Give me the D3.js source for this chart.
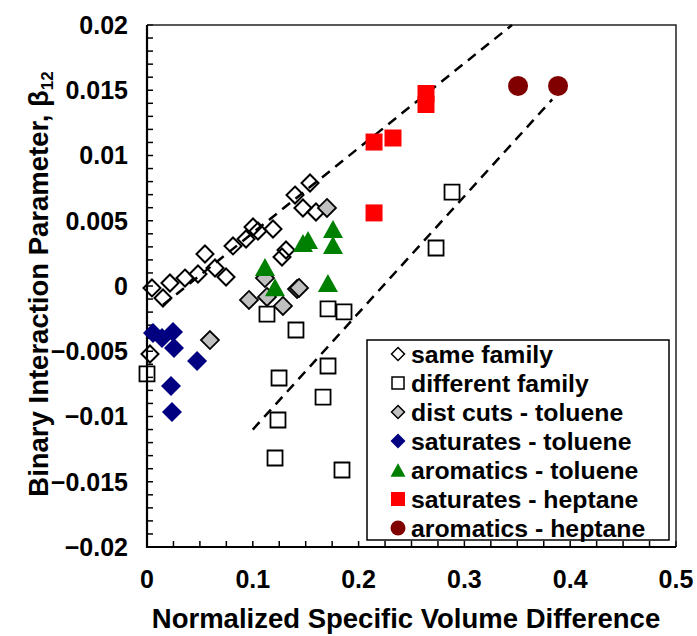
<!DOCTYPE html>
<html>
<head>
<meta charset="utf-8">
<script src="https://cdn.jsdelivr.net/npm/d3@7"></script>
<style>
  body { margin: 0; background: #fff; }
  text { font-family: "Liberation Sans", Arial, sans-serif; font-weight: bold; }
</style>
</head>
<body>
<div id="chart"></div>
<script>
// data: [normalized specific volume difference, beta12]
const sameFamily = [
  [0.0047, -0.00015], [0.0151, -0.00092], [0.0217, 0.00023], [0.0359, 0.00061],
  [0.0482, 0.00092], [0.0548, 0.00245], [0.0643, 0.00138], [0.0747, 0.00069],
  [0.0813, 0.00307], [0.0936, 0.0036], [0.1002, 0.00452], [0.1049, 0.00421],
  [0.1191, 0.00437], [0.1276, 0.00222], [0.1314, 0.00276], [0.1399, 0.00697],
  [0.1474, 0.00598], [0.1541, 0.00789], [0.1597, 0.00567], [0.0028, -0.00521]
];
const diffFamily = [
  [0.0, -0.00674], [0.1134, -0.00215], [0.1711, -0.00176], [0.1862, -0.00199],
  [0.1408, -0.00337], [0.1711, -0.00613], [0.1248, -0.00705], [0.1664, -0.00851],
  [0.1238, -0.01027], [0.121, -0.01318], [0.1843, -0.0141], [0.2732, 0.00291],
  [0.2883, 0.0072]
];
const distCutsTol = [
  [0.1115, 0.00061], [0.0964, -0.00107], [0.1134, -0.00084], [0.1285, -0.00153],
  [0.1418, -0.00023], [0.1437, -0.00015], [0.1701, 0.00598], [0.0595, -0.00414]
];
const satTol = [
  [0.0057, -0.0036], [0.0142, -0.00398], [0.0246, -0.00352], [0.0255, -0.00475],
  [0.0473, -0.00575], [0.0227, -0.00766], [0.0236, -0.00966]
];
const aroTol = [
  [0.1115, 0.00146], [0.121, -0.0001], [0.1474, 0.0033], [0.1522, 0.00352],
  [0.1758, 0.00437], [0.1758, 0.00314], [0.171, 0.00023]
];
const satHep = [
  [0.2146, 0.01103], [0.2325, 0.01134], [0.2637, 0.01475], [0.2637, 0.01391],
  [0.2146, 0.0056]
];
const aroHep = [[0.3507, 0.01533], [0.3885, 0.01533]];

// the two dashed trend lines
const upperLine = [[0.015, -0.00146], [0.345, 0.02]];
const lowerLine = [[0.1, -0.011], [0.383, 0.0143]];

const xTicks = [0, 0.1, 0.2, 0.3, 0.4, 0.5];
const yTicks = [-0.02, -0.015, -0.01, -0.005, 0, 0.005, 0.01, 0.015, 0.02];
const legendLabels = ["same family", "different family", "dist cuts - toluene",
  "saturates - toluene", "aromatics - toluene", "saturates - heptane", "aromatics - heptane"];

const width = 697, height = 636;
const plot = { left: 147, right: 676, top: 25, bottom: 547 };

const svg = d3.select("#chart").append("svg")
  .attr("width", width)
  .attr("height", height);

const x = d3.scaleLinear().domain([0, 0.5]).range([plot.left, plot.right]);
const y = d3.scaleLinear().domain([-0.02, 0.02]).range([plot.bottom, plot.top]);

// marker shapes, centred on their bounding box like excel does
function diamond(r) { return `M0,${-r}L${r},0L0,${r}L${-r},0Z`; }
function square(r) { return `M${-r},${-r}H${r}V${r}H${-r}Z`; }
function triangle(r) { return `M0,${-r * 0.9}L${r},${r * 0.9}L${-r},${r * 0.9}Z`; }
function circle(r) { return d3.arc()({ innerRadius: 0, outerRadius: r, startAngle: 0, endAngle: 2 * Math.PI }); }

const series = [
  { data: sameFamily, path: diamond(8.5), fill: "none", stroke: "#000", sw: 2, leg: diamond(6.5) },
  { data: diffFamily, path: square(7.5), fill: "none", stroke: "#000", sw: 1.8, leg: square(6) },
  { data: distCutsTol, path: diamond(9), fill: "#c0c0c0", stroke: "#000", sw: 1.8, leg: diamond(6.5) },
  { data: satTol, path: diamond(10), fill: "#000080", stroke: "none", sw: 0, leg: diamond(7.5) },
  { data: aroTol, path: triangle(10), fill: "#008000", stroke: "none", sw: 0, leg: triangle(7.5) },
  { data: satHep, path: square(8.5), fill: "#ff0000", stroke: "none", sw: 0, leg: square(7) },
  { data: aroHep, path: circle(10), fill: "#800000", stroke: "none", sw: 0, leg: circle(7.5) }
];

// minor ticks along the left and bottom axes, pointing inwards
const yMinor = d3.range(-20, 21).map(function (d) { return d / 1000; });
const xMinor = d3.range(0, 21).map(function (d) { return d * 0.025; });

svg.append("g").selectAll("line")
  .data(yMinor)
  .enter().append("line")
  .attr("x1", plot.left).attr("x2", plot.left + 6)
  .attr("y1", function (d) { return y(d); }).attr("y2", function (d) { return y(d); })
  .attr("stroke", "#000").attr("stroke-width", 1.5);

svg.append("g").selectAll("line")
  .data(xMinor)
  .enter().append("line")
  .attr("x1", function (d) { return x(d); }).attr("x2", function (d) { return x(d); })
  .attr("y1", plot.bottom).attr("y2", plot.bottom - 6)
  .attr("stroke", "#000").attr("stroke-width", 1.5);

// frame
svg.append("path")
  .attr("d", `M${plot.left},${plot.top}H${plot.right}V${plot.bottom}`)
  .attr("fill", "none").attr("stroke", "#222").attr("stroke-width", 1.5);
svg.append("path")
  .attr("d", `M${plot.left},${plot.top}V${plot.bottom}H${plot.right}`)
  .attr("fill", "none").attr("stroke", "#000").attr("stroke-width", 2.2);

// tick labels
svg.append("g").selectAll("text")
  .data(yTicks)
  .enter().append("text")
  .attr("x", 128)
  .attr("y", function (d) { return y(d); })
  .attr("dy", "0.35em")
  .attr("text-anchor", "end")
  .attr("font-size", 25)
  .text(function (d) { return d3.format("")(+d.toFixed(3)); });

svg.append("g").selectAll("text")
  .data(xTicks)
  .enter().append("text")
  .attr("x", function (d) { return x(d); })
  .attr("y", 588)
  .attr("text-anchor", "middle")
  .attr("font-size", 25)
  .text(function (d) { return d3.format("")(d); });

// axis titles
svg.append("text")
  .attr("x", 406).attr("y", 628)
  .attr("text-anchor", "middle")
  .attr("font-size", 27.5)
  .text("Normalized Specific Volume Difference");

const yTitle = svg.append("text")
  .attr("transform", "translate(48,284) rotate(-90)")
  .attr("text-anchor", "middle")
  .attr("font-size", 27.5);
yTitle.append("tspan").text("Binary Interaction Parameter, β");
yTitle.append("tspan").attr("font-size", 17).attr("dy", 5).text("12");

// dashed trend lines
const line = d3.line()
  .x(function (d) { return x(d[0]); })
  .y(function (d) { return y(d[1]); });

svg.selectAll(".trend")
  .data([upperLine, lowerLine])
  .enter().append("path")
  .attr("class", "trend")
  .attr("d", line)
  .attr("fill", "none")
  .attr("stroke", "#000")
  .attr("stroke-width", 2.5)
  .attr("stroke-dasharray", "10,7");

// markers
series.forEach(function (s) {
  svg.append("g").selectAll("path")
    .data(s.data)
    .enter().append("path")
    .attr("d", s.path)
    .attr("transform", function (d) { return `translate(${x(d[0])},${y(d[1])})`; })
    .attr("fill", s.fill)
    .attr("stroke", s.stroke)
    .attr("stroke-width", s.sw);
});

// legend
const legend = svg.append("g");
legend.append("rect")
  .attr("x", 367).attr("y", 340)
  .attr("width", 302).attr("height", 200)
  .attr("fill", "#fff").attr("stroke", "#000").attr("stroke-width", 1.5);

const legendRows = legend.selectAll(".legend")
  .data(legendLabels)
  .enter().append("g")
  .attr("class", "legend")
  .attr("transform", function (d, i) { return "translate(0," + (354 + i * 29) + ")"; });

legendRows.append("path")
  .attr("transform", "translate(398,0)")
  .attr("d", function (d, i) { return series[i].leg; })
  .attr("fill", function (d, i) { return series[i].fill; })
  .attr("stroke", function (d, i) { return series[i].stroke; })
  .attr("stroke-width", function (d, i) { return series[i].sw ? 1.5 : 0; });

legendRows.append("text")
  .attr("x", 411)
  .attr("dy", "0.35em")
  .attr("font-size", 24.8)
  .text(function (d) { return d; });
</script>
</body>
</html>
